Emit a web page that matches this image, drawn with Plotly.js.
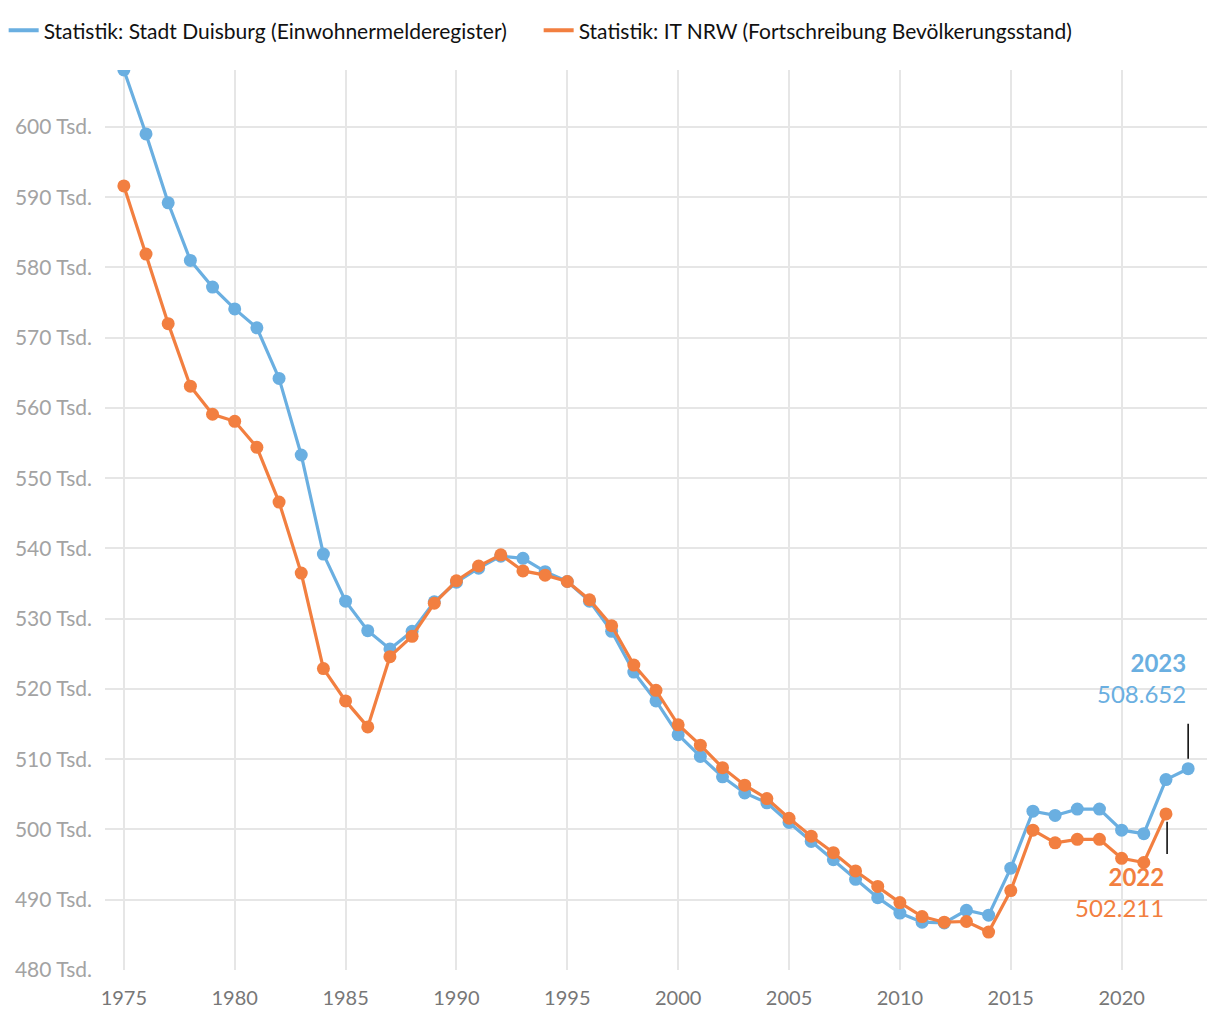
<!DOCTYPE html>
<html>
<head>
<meta charset="utf-8">
<script src="https://cdn.plot.ly/plotly-3.0.1.min.js"></script>
<style>
html,body{margin:0;padding:0;background:#fff;}
#chart{width:1220px;height:1020px;}
</style>
</head>
<body>
<div id="chart"></div>
<script>
const years = [1975,1976,1977,1978,1979,1980,1981,1982,1983,1984,1985,1986,1987,1988,1989,1990,1991,1992,1993,1994,1995,1996,1997,1998,1999,2000,2001,2002,2003,2004,2005,2006,2007,2008,2009,2010,2011,2012,2013,2014,2015,2016,2017,2018,2019,2020,2021,2022,2023];
const duisburg = [608.1,599.0,589.2,581.0,577.2,574.1,571.4,564.2,553.3,539.2,532.5,528.3,525.7,528.2,532.4,535.2,537.2,538.9,538.6,536.7,535.3,532.5,528.2,522.4,518.3,513.5,510.4,507.5,505.2,503.8,501.0,498.3,495.7,492.9,490.3,488.1,486.8,486.7,488.5,487.8,494.5,502.6,502.0,502.9,502.9,499.9,499.4,507.1,508.652];
const itnrwYears = [1975,1976,1977,1978,1979,1980,1981,1982,1983,1984,1985,1986,1987,1988,1989,1990,1991,1992,1993,1994,1995,1996,1997,1998,1999,2000,2001,2002,2003,2004,2005,2006,2007,2008,2009,2010,2011,2012,2013,2014,2015,2016,2017,2018,2019,2020,2021,2022];
const itnrw = [591.6,581.9,572.0,563.1,559.1,558.1,554.4,546.6,536.5,522.9,518.3,514.6,524.6,527.5,532.2,535.4,537.5,539.1,536.8,536.2,535.3,532.7,529.0,523.4,519.8,514.9,512.0,508.8,506.3,504.4,501.6,499.05,496.7,494.1,491.9,489.6,487.6,486.8,486.9,485.4,491.3,499.9,498.1,498.6,498.6,495.9,495.3,502.211];
const seriesNames = ["Statistik: Stadt Duisburg (Einwohnermelderegister)","Statistik: IT NRW (Fortschreibung Bevölkerungsstand)"];
const yTicks = [480,490,500,510,520,530,540,550,560,570,580,590,600];
const xTicks = [1975,1980,1985,1990,1995,2000,2005,2010,2015,2020];
const labelYears = [2023, 2022];
const labelValues = ["508.652", "502.211"];

const BLUE = "#6aafe1";
const ORANGE = "#f27f40";
const FONT = "Lato, 'Open Sans', sans-serif";

const traces = [
  {x: years, y: duisburg, name: seriesNames[0], type: "scatter", mode: "lines+markers", showlegend: false,
   line: {color: BLUE, width: 3.2}, marker: {color: BLUE, size: 13}},
  {x: itnrwYears, y: itnrw, name: seriesNames[1], type: "scatter", mode: "lines+markers", showlegend: false,
   line: {color: ORANGE, width: 3.2}, marker: {color: ORANGE, size: 13}},
  // legend entries (line only, as in the reference)
  {x: [null], y: [null], name: seriesNames[0], type: "scatter", mode: "lines", line: {color: BLUE, width: 4}},
  {x: [null], y: [null], name: seriesNames[1], type: "scatter", mode: "lines", line: {color: ORANGE, width: 4}}
];

const lastBlue = duisburg[duisburg.length-1];
const lastOrange = itnrw[itnrw.length-1];

const layout = {
  width: 1220, height: 1020,
  margin: {l: 105, r: 13, t: 70, b: 50},
  paper_bgcolor: "#fff", plot_bgcolor: "#fff",
  font: {family: FONT, size: 20, color: "#111"},
  showlegend: true,
  legend: {orientation: "h", xref: "container", yref: "container", x: 0.003, y: 0.99, xanchor: "left", yanchor: "top",
           font: {family: FONT, size: 21, color: "#111"}, itemwidth: 30, tracegroupgap: 0,
           entrywidth: 490, entrywidthmode: "pixels"},
  xaxis: {range: [1974.15, 2023.85], tickvals: xTicks, ticktext: xTicks.map(String),
          showgrid: true, gridcolor: "#e6e6e6", gridwidth: 2, zeroline: false, showline: false,
          ticks: "", tickfont: {family: FONT, size: 20, color: "#777"}, ticklabelstandoff: 14},
  yaxis: {range: [480, 608.1], tickvals: yTicks, ticktext: yTicks.map(v => v + " Tsd."),
          showgrid: true, gridcolor: "#e6e6e6", gridwidth: 2, zeroline: false, showline: false,
          ticks: "", tickfont: {family: FONT, size: 21, color: "#a3a3a3"}, ticklabelstandoff: 12},
  shapes: [
    {type: "line", xref: "x", yref: "y", x0: labelYears[0], x1: labelYears[0], y0: lastBlue + 1.4, y1: lastBlue + 6.4,
     line: {color: "#000", width: 1.5}},
    {type: "line", xref: "x", yref: "y", x0: labelYears[1] + 0.05, x1: labelYears[1] + 0.05, y0: lastOrange - 1.1, y1: lastOrange - 5.7,
     line: {color: "#000", width: 1.5}}
  ],
  annotations: [
    {xref: "x", yref: "y", x: labelYears[0], y: lastBlue + 8.3, xanchor: "right", yanchor: "bottom", showarrow: false,
     align: "right", text: "<b>" + labelYears[0] + "</b><br>" + labelValues[0],
     font: {family: FONT, size: 24, color: BLUE}},
    {xref: "x", yref: "y", x: labelYears[1], y: lastOrange - 6.6, xanchor: "right", yanchor: "top", showarrow: false,
     align: "right", text: "<b>" + labelYears[1] + "</b><br>" + labelValues[1],
     font: {family: FONT, size: 24, color: ORANGE}}
  ]
};

Plotly.newPlot("chart", traces, layout, {displayModeBar: false, staticPlot: true});
</script>
</body>
</html>
